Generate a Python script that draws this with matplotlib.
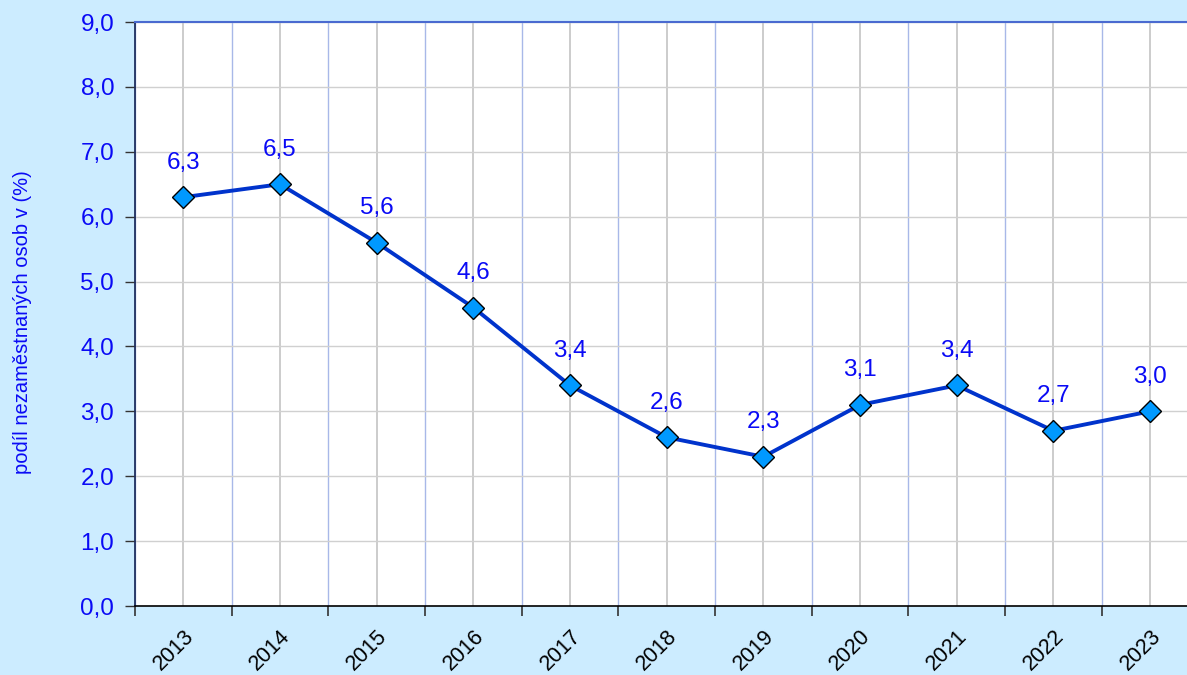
"""Share of unemployed persons by year, 2013-2023."""

import matplotlib.pyplot as plt
from matplotlib.ticker import FixedLocator

plt.rcParams["font.family"] = ["Liberation Sans", "DejaVu Sans"]

years = ["2013", "2014", "2015", "2016", "2017", "2018",
         "2019", "2020", "2021", "2022", "2023"]
share = [6.3, 6.5, 5.6, 4.6, 3.4, 2.6, 2.3, 3.1, 3.4, 2.7, 3.0]
y_ticks = [0, 1, 2, 3, 4, 5, 6, 7, 8, 9]

bg = "#CCECFF"
text_blue = "#0A0AF5"

fig = plt.figure(figsize=(11.87, 6.75), dpi=100, facecolor=bg)
ax = fig.add_axes([0.1137, 0.1022, 0.8959, 0.8652])
ax.set_facecolor("white")

x = list(range(len(years)))
ax.plot(x, share, color="#0033CC", linewidth=2.8, marker="D",
        markersize=11, markerfacecolor="#0099FF",
        markeredgecolor="black", markeredgewidth=1.0, zorder=5)

# value labels above each point, decimal comma
for xi, v in zip(x, share):
    ax.annotate(f"{v:.1f}".replace(".", ","), (xi, v), xytext=(0, 17),
                textcoords="offset points", ha="center", va="bottom",
                fontsize=17.5, color=text_blue, zorder=6)

ax.set_xlim(-0.5, len(years) - 0.5)
ax.set_ylim(0, 9)

# category labels at the points, ticks + blue grid at the boundaries
ax.set_xticks(x)
ax.set_xticklabels(years, rotation=45, ha="right", va="top",
                   rotation_mode="anchor", fontsize=15.5, color="black")
ax.tick_params(axis="x", which="major", length=0, pad=14)
ax.xaxis.set_minor_locator(FixedLocator([i - 0.5 for i in range(len(years) + 1)]))
ax.tick_params(axis="x", which="minor", length=7, width=1.2, color="#333333",
               direction="out")
ax.grid(axis="x", which="major", color="#C8C8C8", linewidth=1.3)
ax.grid(axis="x", which="minor", color="#A8B8E8", linewidth=1.0)

ax.set_yticks(y_ticks)
ax.set_yticklabels([f"{t:.1f}".replace(".", ",") for t in y_ticks],
                   fontsize=17.5, color=text_blue)
ax.tick_params(axis="y", length=7, width=1.0, color="#333333",
               direction="out", pad=8)
ax.grid(axis="y", color="#D0D0D0", linewidth=1.0)
ax.set_axisbelow(True)

ax.set_ylabel("podíl nezaměstnaných osob v (%)", fontsize=14.5,
              color=text_blue)
ax.yaxis.set_label_coords(-0.097, 0.486)

ax.spines["left"].set_color("#1F2F5F")
ax.spines["left"].set_linewidth(1.3)
ax.spines["bottom"].set_color("black")
ax.spines["bottom"].set_linewidth(1.2)
ax.spines["top"].set_color("#4A6AD0")
ax.spines["top"].set_linewidth(1.5)
ax.spines["right"].set_visible(False)

fig.savefig("out.png", dpi=100, facecolor=bg)
